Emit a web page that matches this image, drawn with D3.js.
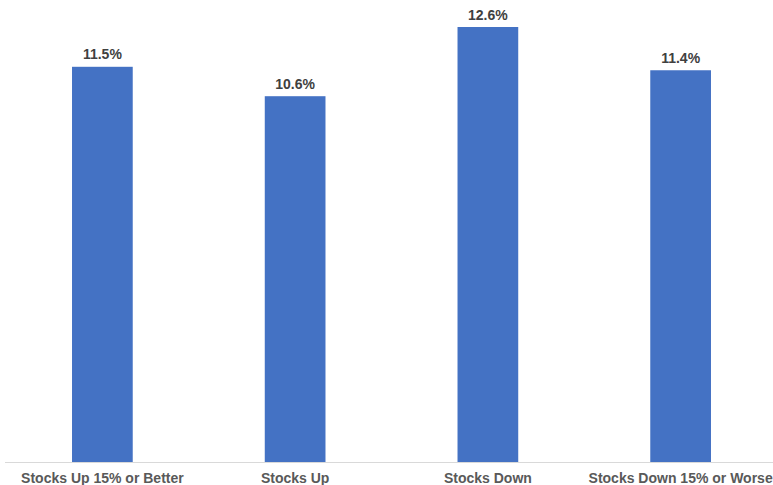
<!DOCTYPE html>
<html><head><meta charset="utf-8">
<script src="https://cdn.jsdelivr.net/npm/d3@7"></script>
<style>body{margin:0;background:#fff;}svg{display:block;}</style>
</head><body>
<script>
const categories = ["Stocks Up 15% or Better", "Stocks Up", "Stocks Down", "Stocks Down 15% or Worse"];
const values = [11.45, 10.6, 12.6, 11.35];
const valueLabels = ["11.5%", "10.6%", "12.6%", "11.4%"];

const W = 773, H = 485;
const svg = d3.select("body").append("svg").attr("width", W).attr("height", H);
const x = d3.scaleBand().domain(categories).range([6, 777]).paddingInner(0.685).paddingOuter(0.3425);
const y = d3.scaleLinear().domain([0, 12.6]).range([463, 27]);

svg.selectAll("rect.bar").data(categories).join("rect")
  .attr("class","bar")
  .attr("x", d => x(d)).attr("width", x.bandwidth())
  .attr("y", (d,i) => y(values[i])).attr("height", (d,i) => y(0) - y(values[i]))
  .attr("fill", "#4472C4");

svg.append("line").attr("x1", 5).attr("x2", W).attr("y1", y(0)-0.5).attr("y2", y(0)-0.5)
  .attr("stroke", "#d9d9d9").attr("stroke-width", 1);

svg.selectAll("text.val").data(categories).join("text")
  .attr("class","val")
  .attr("x", d => x(d) + x.bandwidth()/2)
  .attr("y", (d,i) => y(values[i]) - 7.5)
  .attr("text-anchor","middle")
  .attr("font-family","Liberation Sans, Arial, sans-serif")
  .attr("font-weight","bold").attr("font-size","14px").attr("fill","#404040")
  .text((d,i) => valueLabels[i]);

const axis = d3.axisBottom(x).tickSize(0).tickPadding(0);
const g = svg.append("g").attr("transform", `translate(0,${y(0)})`).call(axis);
g.select(".domain").remove();
g.selectAll("text")
  .attr("dy", null).attr("y", 20)
  .attr("font-family","Liberation Sans, Arial, sans-serif")
  .attr("font-weight","bold").attr("font-size","14px").attr("fill","#595959");
</script>
</body></html>
